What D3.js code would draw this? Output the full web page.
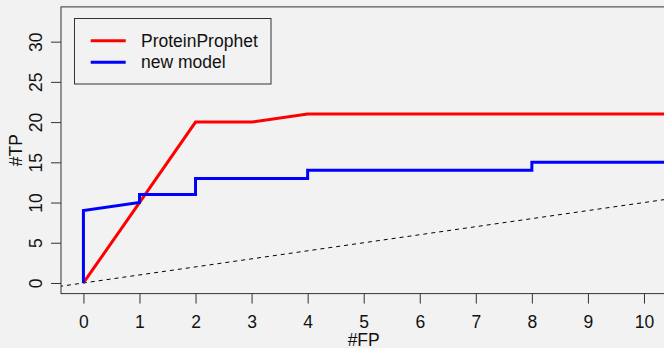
<!DOCTYPE html>
<html>
<head>
<meta charset="utf-8">
<script src="https://cdn.jsdelivr.net/npm/d3@7"></script>
<style>
  html, body { margin: 0; padding: 0; background: #f2f2f2; }
  svg { display: block; font-family: "Liberation Sans", Arial, sans-serif; }
</style>
</head>
<body>
<script>
// data
const protFP = [0, 1, 2, 3, 4, 5, 6, 7, 8, 9, 10, 11];
const protTP = [0, 10, 20, 20, 21, 21, 21, 21, 21, 21, 21, 21];
const newFP = [0, 0, 1, 1, 2, 2, 4, 4, 8, 8, 11];
const newTP = [0, 9, 10, 11, 11, 13, 13, 14, 14, 15, 15];
const xTicks = [0, 1, 2, 3, 4, 5, 6, 7, 8, 9, 10];
const yTicks = [0, 5, 10, 15, 20, 25, 30];
const seriesNames = ['ProteinProphet', 'new model'];
const seriesColors = ['#ff0000', '#0000ff'];

const W = 664, H = 348;
const fontSize = 17.5;

const svg = d3.select('body').append('svg')
    .attr('width', W)
    .attr('height', H);

svg.append('rect').attr('width', W).attr('height', H).attr('fill', '#f2f2f2');

// R style axis limits: [0,10] x [0,33] with 4% extension
const x = d3.scaleLinear().domain([-0.4, 10.4]).range([61, 666.4]);
const y = d3.scaleLinear().domain([-1.32, 34.32]).range([293.6, 6.9]);

const pLeft = x.range()[0], pRight = x.range()[1];
const pTop = y.range()[1], pBottom = y.range()[0];

svg.append('clipPath').attr('id', 'plotclip')
  .append('rect')
    .attr('x', pLeft).attr('y', pTop)
    .attr('width', pRight - pLeft).attr('height', pBottom - pTop);

const plot = svg.append('g').attr('clip-path', 'url(#plotclip)');

// diagonal y = x
plot.append('line')
    .attr('x1', x(-1)).attr('y1', y(-1))
    .attr('x2', x(11)).attr('y2', y(11))
    .attr('stroke', '#000')
    .attr('stroke-width', 1)
    .attr('stroke-dasharray', '4,4');

const line = d3.line().x(d => x(d[0])).y(d => y(d[1]));

plot.append('path')
    .datum(d3.zip(protFP, protTP))
    .attr('d', line)
    .attr('fill', 'none')
    .attr('stroke', seriesColors[0])
    .attr('stroke-width', 3);

plot.append('path')
    .datum(d3.zip(newFP, newTP))
    .attr('d', line)
    .attr('fill', 'none')
    .attr('stroke', seriesColors[1])
    .attr('stroke-width', 3);

// box
svg.append('rect')
    .attr('x', pLeft).attr('y', pTop)
    .attr('width', pRight - pLeft).attr('height', pBottom - pTop)
    .attr('fill', 'none')
    .attr('stroke', '#333')
    .attr('stroke-width', 1);

// x axis
const xAxis = svg.append('g')
    .attr('transform', 'translate(0,' + pBottom + ')')
    .call(d3.axisBottom(x).tickValues(xTicks).tickSize(10).tickPadding(12));
xAxis.select('.domain').remove();
xAxis.selectAll('line').attr('stroke', '#333');
xAxis.selectAll('text')
    .attr('font-size', fontSize)
    .attr('font-family', '"Liberation Sans", Arial, sans-serif')
    .attr('fill', '#111');

// y axis, labels rotated like R's default las=0
const yAxis = svg.append('g')
    .attr('transform', 'translate(' + pLeft + ',0)')
    .call(d3.axisLeft(y).tickValues(yTicks).tickSize(10));
yAxis.select('.domain').remove();
yAxis.selectAll('line').attr('stroke', '#333');
yAxis.selectAll('text')
    .attr('x', null).attr('dy', null)
    .attr('transform', 'translate(-19,0) rotate(-90)')
    .attr('text-anchor', 'middle')
    .attr('font-size', fontSize)
    .attr('font-family', '"Liberation Sans", Arial, sans-serif')
    .attr('fill', '#111');

// axis titles
svg.append('text')
    .attr('x', (pLeft + pRight) / 2)
    .attr('y', 345.5)
    .attr('text-anchor', 'middle')
    .attr('font-size', fontSize)
    .attr('fill', '#111')
    .text('#FP');

svg.append('text')
    .attr('transform', 'translate(22,' + ((pTop + pBottom) / 2) + ') rotate(-90)')
    .attr('text-anchor', 'middle')
    .attr('font-size', fontSize)
    .attr('fill', '#111')
    .text('#TP');

// legend
const legend = svg.append('g');
legend.append('rect')
    .attr('x', 74.5).attr('y', 18.5)
    .attr('width', 196.5).attr('height', 65.5)
    .attr('fill', '#f2f2f2')
    .attr('stroke', '#333')
    .attr('stroke-width', 1);

seriesNames.forEach((name, i) => {
    const ly = 40.7 + i * 21.6;
    legend.append('line')
        .attr('x1', 90.7).attr('x2', 125.7)
        .attr('y1', ly).attr('y2', ly)
        .attr('stroke', seriesColors[i])
        .attr('stroke-width', 3);
    legend.append('text')
        .attr('x', 141)
        .attr('y', ly)
        .attr('dy', '0.35em')
        .attr('font-size', fontSize)
        .attr('fill', '#111')
        .text(name);
});
</script>
</body>
</html>
